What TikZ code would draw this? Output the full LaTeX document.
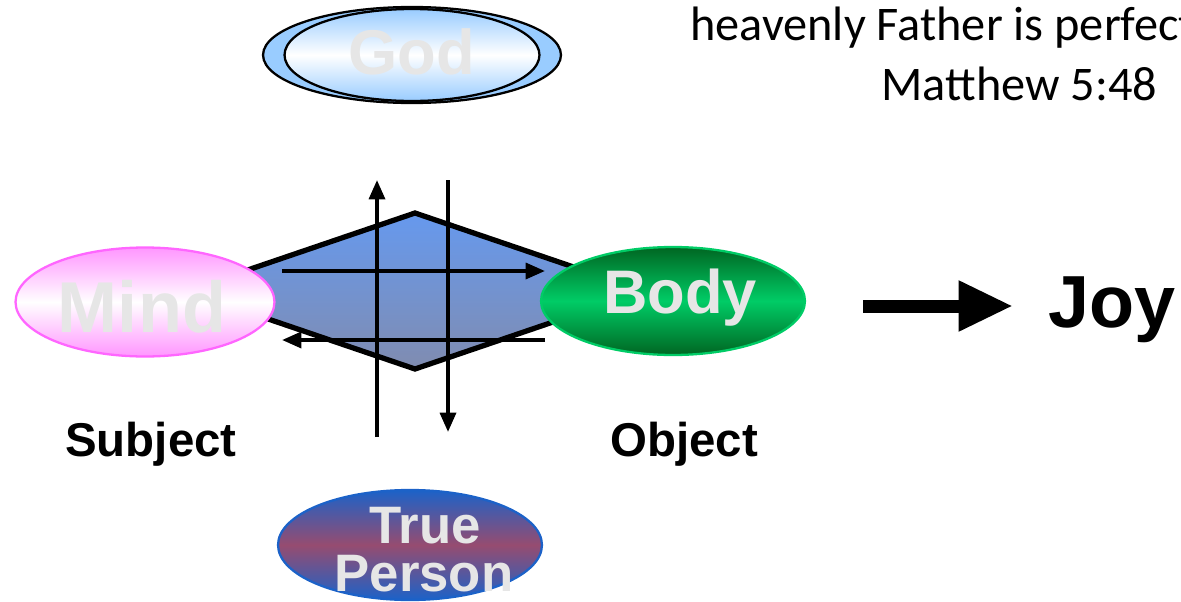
\documentclass[tikz,border=0pt]{standalone}
\usepackage{fontspec}
\setmainfont{Liberation Sans}
\newfontfamily\versefont{Carlito}
\usepackage{tikz}
\usetikzlibrary{shapes.geometric, arrows.meta}
\definecolor{godblue}{RGB}{153,204,255}
\definecolor{mindpink}{RGB}{255,150,255}
\definecolor{mindline}{RGB}{255,102,255}
\definecolor{bodydark}{RGB}{0,102,34}
\definecolor{bodylight}{RGB}{0,204,102}
\definecolor{personblue}{RGB}{28,98,200}
\definecolor{personmauve}{RGB}{150,76,112}
\definecolor{basetop}{RGB}{102,153,238}
\definecolor{basebottom}{RGB}{128,140,176}
\definecolor{pale}{RGB}{230,230,230}
\tikzstyle{blob} = [ellipse, inner sep=0pt, line width=1.3pt]
\tikzstyle{word} = [text=pale, inner sep=0pt, anchor=base]
\tikzset{
	flow/.style={line width=2.2pt, -{Triangle[length=11pt,width=9pt]}},
	tag/.style={font=\bfseries\fontsize{27}{30}\selectfont, inner sep=0pt, anchor=base},
	verse/.style={font=\versefont\fontsize{27.5}{30}\selectfont, inner sep=0pt, anchor=base west},
}

\begin{document}
\begin{tikzpicture}[x=0.02cm, y=-0.02cm]
\useasboundingbox (0,0) rectangle (1181,602);

% four position base
\draw[line width=3pt, top color=basetop, bottom color=basebottom]
	(186,291) -- (415,213) -- (644,291) -- (415,369) -- cycle;

\foreach \x/\from/\to in {377/437/180, 448/180/432}
	\draw[flow] (\x,\from) -- (\x,\to);
\foreach \y/\from/\to in {271/282/545, 340/545/282}
	\draw[flow] (\from,\y) -- (\to,\y);

% God
\node [blob, draw=black, fill=godblue, minimum width=5.96cm, minimum height=1.92cm] (god) at (412,55) {};
\node [blob, draw=black, top color=godblue, bottom color=godblue, middle color=white,
	minimum width=5.1cm, minimum height=1.84cm] (godin) at (412,55) {};
\node [word, font=\bfseries\fontsize{36}{36}\selectfont] (godtext) at (412,74) {God};

% mind and body
\node [blob, draw=mindline, top color=mindpink, bottom color=mindpink, middle color=white,
	minimum width=5.18cm, minimum height=2.18cm] (mind) at (145,302) {};
\node [word, font=\bfseries\fontsize{41}{41}\selectfont] (mindtext) at (142,332) {Mind};
\node [blob, draw=bodylight, top color=bodydark, bottom color=bodydark, middle color=bodylight,
	minimum width=5.28cm, minimum height=2.16cm] (body) at (673,301) {};
\node [word, font=\bfseries\fontsize{35}{35}\selectfont] (bodytext) at (680,313) {Body};

\node [tag] (subject) at (151,456) {Subject};
\node [tag] (object) at (684,456) {Object};

% true person
\node [blob, draw=personblue, top color=personblue, bottom color=personblue, middle color=personmauve,
	minimum width=5.28cm, minimum height=2.2cm] (person) at (410,545) {};
\node [word, font=\bfseries\fontsize{30}{30}\selectfont] (truetext) at (425,543) {True};
\node [word, font=\bfseries\fontsize{30}{30}\selectfont] (persontext) at (424,591) {Person};

% joy
\node [font=\bfseries\fontsize{42}{42}\selectfont, inner sep=0pt, anchor=base west] (joy) at (1048,327) {Joy};
\coordinate (joytail) at (863,306);
\draw [line width=7.4pt, -{Triangle[length=31pt,width=27pt]}, shorten >=0.7cm]
	(joytail) -- (joytail -| joy.west);

\node [verse] (verse) at (690,40) {heavenly Father is perfect};
\node [verse] (source) at (881,100) {Matthew 5:48};

\end{tikzpicture}
\end{document}
